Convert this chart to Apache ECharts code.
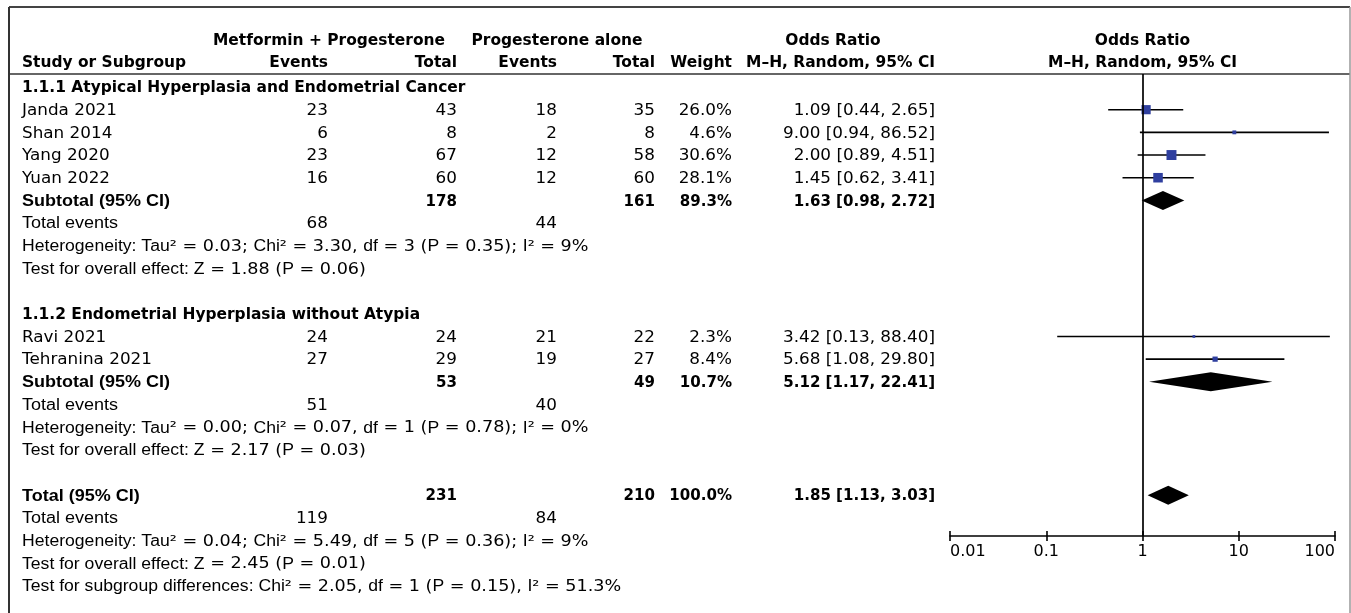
<!DOCTYPE html>
<html><head><meta charset="utf-8">
<script src="https://cdn.jsdelivr.net/npm/echarts@6/dist/echarts.min.js"></script>
<style>html,body{margin:0;padding:0;background:#fff;}#c{width:1351px;height:613px;}</style>
</head><body><div id="c"></div>
<script>
// ================= DATA =================
const studies = ['Janda 2021', 'Shan 2014', 'Yang 2020', 'Yuan 2022', 'Ravi 2021', 'Tehranina 2021'];
const studyGroup = [0, 0, 0, 0, 1, 1];
const eventsMP = [23, 6, 23, 16, 24, 27];
const totalMP = [43, 8, 67, 60, 24, 29];
const eventsP = [18, 2, 12, 12, 21, 19];
const totalP = [35, 8, 58, 60, 22, 27];
const weights = [26.0, 4.6, 30.6, 28.1, 2.3, 8.4];
const orEst = [1.09, 9.00, 2.00, 1.45, 3.42, 5.68];
const orLow = [0.44, 0.94, 0.89, 0.62, 0.13, 1.08];
const orHigh = [2.65, 86.52, 4.51, 3.41, 88.40, 29.80];

const subgroups = ['1.1.1 Atypical Hyperplasia and Endometrial Cancer', '1.1.2 Endometrial Hyperplasia without Atypia'];
const subTotalMP = [178, 53];
const subTotalP = [161, 49];
const subWeight = [89.3, 10.7];
const subEst = [1.63, 5.12];
const subLow = [0.98, 1.17];
const subHigh = [2.72, 22.41];
const subEventsMP = [68, 51];
const subEventsP = [44, 40];
const subHet = ['Heterogeneity: Tau² = 0.03; Chi² = 3.30, df = 3 (P = 0.35); I² = 9%',
                'Heterogeneity: Tau² = 0.00; Chi² = 0.07, df = 1 (P = 0.78); I² = 0%'];
const subTest = ['Test for overall effect: Z = 1.88 (P = 0.06)',
                 'Test for overall effect: Z = 2.17 (P = 0.03)'];

const overallTotals = [231, 210];
const overallWeight = 100.0;
const overallOR = [1.85, 1.13, 3.03];          // estimate, low, high
const overallEvents = [119, 84];
const overallNotes = ['Heterogeneity: Tau² = 0.04; Chi² = 5.49, df = 5 (P = 0.36); I² = 9%',
                      'Test for overall effect: Z = 2.45 (P = 0.01)',
                      'Test for subgroup differences: Chi² = 2.05, df = 1 (P = 0.15), I² = 51.3%'];

const axisTicks = [0.01, 0.1, 1, 10, 100];
const headerTop = ['Metformin + Progesterone', 'Progesterone alone', 'Odds Ratio', 'Odds Ratio'];
const headerCols = ['Study or Subgroup', 'Events', 'Total', 'Events', 'Total', 'Weight', 'M–H, Random, 95% CI', 'M–H, Random, 95% CI'];
const rowLabels = ['Subtotal (95% CI)', 'Total events', 'Total (95% CI)'];

// ================= LAYOUT =================
const W = 1351, H = 613;
const ROW0 = 87, ROW_H = 22.68;
const GRID_TOP = 74, GRID_BOTTOM = 536, F_LEFT = 950, F_RIGHT = 1335;
const Y_MIN = (GRID_TOP - ROW0) / ROW_H, Y_MAX = (GRID_BOTTOM - ROW0) / ROW_H;
const HEAD1_U = -2.07, HEAD2_U = -1.1;
const X_LEFT = 22;
const COL = { evM: 328, totM: 457, evP: 557, totP: 655, wt: 732, or: 935 };
const HEAD_CENTER = { mp: 329, p: 557, or: 833 };
const TEXT_DY = 1;
const FS = 16;
const SQ_K = 1.8, DIA_H = 9.5;
const BLUE = '#2f3f9f';

// row assignment
const studyRow = [], subRow = [], statRows = [];
let u = 0;
subgroups.forEach((g, gi) => {
  const r = { title: u++ };
  studies.forEach((s, si) => { if (studyGroup[si] === gi) studyRow[si] = u++; });
  subRow[gi] = u++;
  r.events = u++; r.het = u++; r.test = u++;
  statRows.push(r);
  u++;
});
const totalRow = u;
const totalStatRows = [u + 1, u + 2, u + 3, u + 4];

const fmtOR = (e, l, h) => e.toFixed(2) + ' [' + l.toFixed(2) + ', ' + h.toFixed(2) + ']';

const chart = echarts.init(document.getElementById('c'), null, { renderer: 'canvas' });

const ciData = studies.map((s, i) => [orLow[i], orHigh[i], orEst[i], studyRow[i], weights[i]]);
const diaData = subgroups.map((g, i) => [subLow[i], subHigh[i], subEst[i], subRow[i]])
  .concat([[overallOR[1], overallOR[2], overallOR[0], totalRow]]);

const xBase = {
  type: 'log', logBase: 10, min: axisTicks[0], max: axisTicks[axisTicks.length - 1],
  position: 'bottom', splitLine: { show: false }, minorTick: { show: false }
};

chart.setOption({
  animation: false,
  backgroundColor: '#fff',
  grid: { left: F_LEFT, right: W - F_RIGHT, top: GRID_TOP, bottom: H - GRID_BOTTOM, containLabel: false },
  xAxis: [
    Object.assign({}, xBase, {
      axisLine: { show: true, onZero: false, lineStyle: { color: '#000', width: 1.6 } },
      axisTick: { show: true, length: 5, lineStyle: { color: '#000', width: 1.6 } },
      axisLabel: {
        show: true, margin: 8, fontSize: 16, fontFamily: 'DejaVu Sans', color: '#000',
        alignMinLabel: 'left', alignMaxLabel: 'right',
        formatter: v => { const t = axisTicks.find(a => Math.abs(a - v) / a < 1e-6); return t === undefined ? '' : String(t); }
      }
    }),
    Object.assign({}, xBase, {
      axisLine: { show: false, onZero: false },
      axisTick: { show: true, inside: true, length: 5, lineStyle: { color: '#000', width: 1.6 } },
      axisLabel: { show: false }
    })
  ],
  yAxis: { type: 'value', inverse: true, min: Y_MIN, max: Y_MAX, show: false },
  series: [
    {
      type: 'custom', name: 'studies', xAxisIndex: 0, yAxisIndex: 0,
      encode: { x: [0, 1, 2], y: 3 }, clip: false,
      data: ciData,
      renderItem: (params, api) => {
        const y = api.value(3);
        const lo = api.coord([api.value(0), y]);
        const hi = api.coord([api.value(1), y]);
        const c = api.coord([api.value(2), y]);
        const s = SQ_K * Math.sqrt(api.value(4));
        return { type: 'group', children: [
          { type: 'line', shape: { x1: lo[0], y1: lo[1], x2: hi[0], y2: hi[1] }, style: { stroke: '#000', lineWidth: 1.6 } },
          { type: 'rect', shape: { x: c[0] - s / 2, y: c[1] - s / 2, width: s, height: s }, style: { fill: BLUE } }
        ] };
      }
    },
    {
      type: 'custom', name: 'pooled', xAxisIndex: 0, yAxisIndex: 0,
      encode: { x: [0, 1, 2], y: 3 }, clip: false,
      data: diaData,
      renderItem: (params, api) => {
        const y = api.value(3);
        const lo = api.coord([api.value(0), y]);
        const hi = api.coord([api.value(1), y]);
        const c = api.coord([api.value(2), y]);
        return { type: 'polygon', shape: { points: [lo, [c[0], c[1] - DIA_H], hi, [c[0], c[1] + DIA_H]] }, style: { fill: '#000' } };
      },
      markLine: {
        silent: true, symbol: ['none', 'none'], label: { show: false },
        lineStyle: { color: '#000', width: 1.7, type: 'solid' },
        data: [{ xAxis: 1 }]
      }
    }
  ]
});

// ================= TABLE TEXT =================
const yPx = v => chart.convertToPixel({ yAxisIndex: 0 }, v) + TEXT_DY;
const xOne = chart.convertToPixel({ xAxisIndex: 0 }, 1);

const ST = {
  bold: { fontFamily: 'DejaVu Sans', fontWeight: 'bold', sx: 0.965 },
  boldNum: { fontFamily: 'DejaVu Sans', fontWeight: 'bold', sx: 0.94 },
  reg: { fontFamily: 'DejaVu Sans', fontWeight: 'normal', sx: 1.05 },
  narrowBold: { fontFamily: 'Liberation Sans', fontWeight: 'bold', sx: 1.125 },
  narrow: { fontFamily: 'Liberation Sans', fontWeight: 'normal', sx: 1.125 }
};
const MIXED_SX = 1.1;
const g = [];
function txt(x, yv, text, st, align) {
  g.push({
    type: 'text', x: x, y: yPx(yv), scaleX: st.sx, z: 10, silent: true,
    style: {
      text: String(text), fontSize: FS, fontFamily: st.fontFamily, fontWeight: st.fontWeight, fill: '#000',
      align: align || 'left', verticalAlign: 'middle', textAlign: align || 'left', textVerticalAlign: 'middle'
    }
  });
}
function mixed(x, yv, s) {
  const toks = s.match(/[A-Za-z:]+(?: +[A-Za-z:]+)*|[^A-Za-z:]+/g);
  const rich = toks.map(t => /^[A-Za-z:]/.test(t) ? '{w|' + t + '}' : '{n|' + t + '}').join('');
  g.push({
    type: 'text', x: x, y: yPx(yv), scaleX: MIXED_SX, z: 10, silent: true,
    style: {
      text: rich, fontSize: FS, fill: '#000', align: 'left', verticalAlign: 'middle', textAlign: 'left', textVerticalAlign: 'middle',
      rich: {
        w: { fontFamily: 'Liberation Sans', fontSize: FS, fill: '#000' },
        n: { fontFamily: 'DejaVu Sans', fontSize: FS, fill: '#000' }
      }
    }
  });
}

// headers
txt(HEAD_CENTER.mp, HEAD1_U, headerTop[0], ST.bold, 'center');
txt(HEAD_CENTER.p, HEAD1_U, headerTop[1], ST.bold, 'center');
txt(HEAD_CENTER.or, HEAD1_U, headerTop[2], ST.bold, 'center');
txt(xOne, HEAD1_U, headerTop[3], ST.bold, 'center');
txt(X_LEFT, HEAD2_U, headerCols[0], ST.bold, 'left');
txt(COL.evM, HEAD2_U, headerCols[1], ST.bold, 'right');
txt(COL.totM, HEAD2_U, headerCols[2], ST.bold, 'right');
txt(COL.evP, HEAD2_U, headerCols[3], ST.bold, 'right');
txt(COL.totP, HEAD2_U, headerCols[4], ST.bold, 'right');
txt(COL.wt, HEAD2_U, headerCols[5], ST.bold, 'right');
txt(COL.or, HEAD2_U, headerCols[6], ST.bold, 'right');
txt(xOne, HEAD2_U, headerCols[7], ST.bold, 'center');

// subgroups
subgroups.forEach((name, gi) => {
  const r = statRows[gi];
  txt(X_LEFT, r.title, name, ST.bold, 'left');
  studies.forEach((s, si) => {
    if (studyGroup[si] !== gi) return;
    const y = studyRow[si];
    txt(X_LEFT, y, s, ST.reg, 'left');
    txt(COL.evM, y, eventsMP[si], ST.reg, 'right');
    txt(COL.totM, y, totalMP[si], ST.reg, 'right');
    txt(COL.evP, y, eventsP[si], ST.reg, 'right');
    txt(COL.totP, y, totalP[si], ST.reg, 'right');
    txt(COL.wt, y, weights[si].toFixed(1) + '%', ST.reg, 'right');
    txt(COL.or, y, fmtOR(orEst[si], orLow[si], orHigh[si]), ST.reg, 'right');
  });
  const sy = subRow[gi];
  txt(X_LEFT, sy, rowLabels[0], ST.narrowBold, 'left');
  txt(COL.totM, sy, subTotalMP[gi], ST.boldNum, 'right');
  txt(COL.totP, sy, subTotalP[gi], ST.boldNum, 'right');
  txt(COL.wt, sy, subWeight[gi].toFixed(1) + '%', ST.boldNum, 'right');
  txt(COL.or, sy, fmtOR(subEst[gi], subLow[gi], subHigh[gi]), ST.boldNum, 'right');
  txt(X_LEFT, r.events, rowLabels[1], ST.narrow, 'left');
  txt(COL.evM, r.events, subEventsMP[gi], ST.reg, 'right');
  txt(COL.evP, r.events, subEventsP[gi], ST.reg, 'right');
  mixed(X_LEFT, r.het, subHet[gi]);
  mixed(X_LEFT, r.test, subTest[gi]);
});

// overall
txt(X_LEFT, totalRow, rowLabels[2], ST.narrowBold, 'left');
txt(COL.totM, totalRow, overallTotals[0], ST.boldNum, 'right');
txt(COL.totP, totalRow, overallTotals[1], ST.boldNum, 'right');
txt(COL.wt, totalRow, overallWeight.toFixed(1) + '%', ST.boldNum, 'right');
txt(COL.or, totalRow, fmtOR(overallOR[0], overallOR[1], overallOR[2]), ST.boldNum, 'right');
txt(X_LEFT, totalStatRows[0], rowLabels[1], ST.narrow, 'left');
txt(COL.evM, totalStatRows[0], overallEvents[0], ST.reg, 'right');
txt(COL.evP, totalStatRows[0], overallEvents[1], ST.reg, 'right');
overallNotes.forEach((n, i) => mixed(X_LEFT, totalStatRows[i + 1], n));

// frame
const FR = { l: 9, r: 1350, t: 7 };
g.push({ type: 'line', silent: true, z: 1, shape: { x1: FR.l, y1: FR.t, x2: FR.r, y2: FR.t }, style: { stroke: '#444', lineWidth: 2 } });
g.push({ type: 'line', silent: true, z: 1, shape: { x1: FR.l, y1: GRID_TOP, x2: FR.r, y2: GRID_TOP }, style: { stroke: '#333', lineWidth: 1.6 } });
g.push({ type: 'line', silent: true, z: 1, shape: { x1: FR.l, y1: FR.t, x2: FR.l, y2: H + 5 }, style: { stroke: '#333', lineWidth: 2 } });
g.push({ type: 'line', silent: true, z: 1, shape: { x1: FR.r, y1: FR.t, x2: FR.r, y2: H + 5 }, style: { stroke: '#999', lineWidth: 1.5 } });

chart.setOption({ graphic: { elements: g } });
</script>
</body></html>
